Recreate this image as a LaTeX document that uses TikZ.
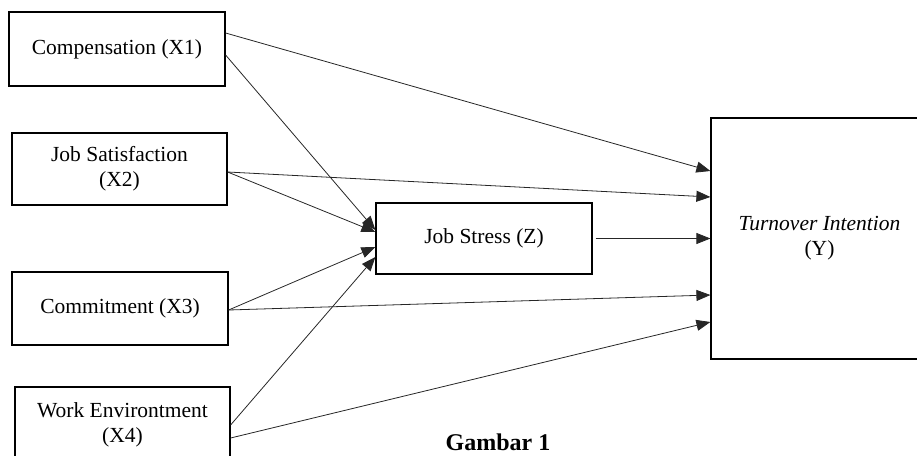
\documentclass[tikz,border=0pt]{standalone}
\usepackage{fontspec}
\setmainfont{Liberation Serif}
\usetikzlibrary{arrows.meta}
\begin{document}
\begin{tikzpicture}[x=1pt,y=-1pt,
  box/.style={draw=black, line width=1.2pt, align=center, inner sep=0pt,
    font=\fontsize{21.5}{25}\selectfont},
  link/.style={draw=black!85, line width=0.8pt, -{Triangle[length=14pt,width=11pt]}}]
\useasboundingbox (0,0) rectangle (917,455);
\clip (0,0) rectangle (917,455);
\node[box, minimum width=216pt, minimum height=74pt] (x1) at (117,49) {Compensation (X1)};
\node[box, minimum width=215pt, minimum height=72pt] (x2) at (119.5,169) {Job Satisfaction\\(X2)};
\node[box, minimum width=216pt, minimum height=73pt] (x3) at (120,308.5) {Commitment (X3)};
\node[box, minimum width=215pt, minimum height=76pt] (x4) at (122.5,425) {Work Environtment\\(X4)};
\node[box, minimum width=216pt, minimum height=71pt] (z) at (484,238.5) {Job Stress (Z)};
\node[box, minimum width=217pt, minimum height=241pt] (y) at (819.5,238.5) {{\itshape Turnover Intention}\\(Y)};
\node[font=\bfseries\fontsize{24}{28}\selectfont, anchor=base, inner sep=0pt] (cap) at (498,450) {Gambar 1};
% to Y
\draw[link] ([yshift=16]x1.east) -- ([yshift=67.5]y.west);
\draw[link] ([yshift=-3]x2.east) -- ([yshift=41.5]y.west);
\draw[link] ([yshift=-1.5]x3.east) -- ([yshift=-56.5]y.west);
\draw[link] ([yshift=-13]x4.east) -- ([yshift=-83.5]y.west);
\draw[link, shorten <=3pt] (z.east) -- (y.west);
% to Z
\draw[link] ([yshift=-6]x1.east) -- ([yshift=8.5]z.west);
\draw[link] ([yshift=-3]x2.east) -- ([yshift=6.5]z.west);
\draw[link] ([yshift=-1.5]x3.east) -- ([yshift=-8.5]z.west);
\draw[link] (x4.east) -- ([yshift=-18.5]z.west);
\end{tikzpicture}
\end{document}
